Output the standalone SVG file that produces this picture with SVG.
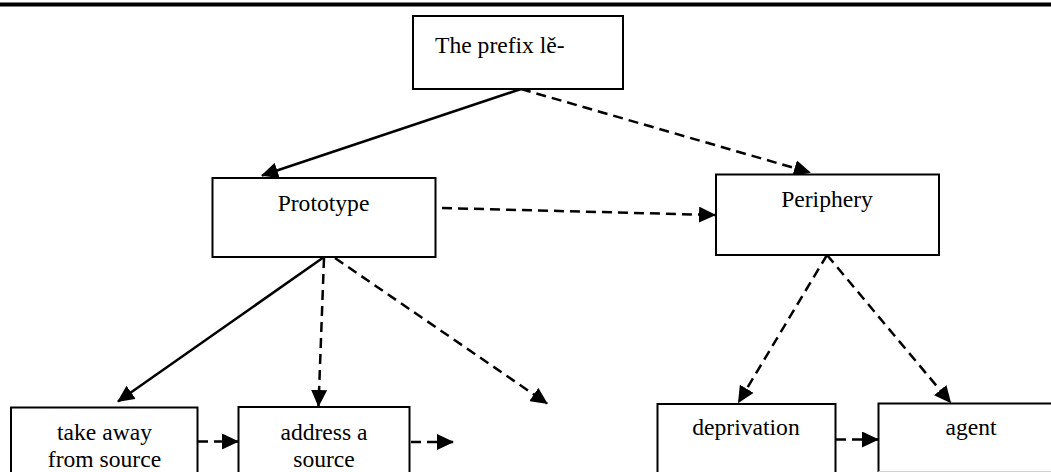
<svg xmlns="http://www.w3.org/2000/svg" width="1051" height="472" viewBox="0 0 1051 472">
  <style>
    .box { fill: #fff; stroke: #000; stroke-width: 2; }
    text { font-family: 'Liberation Serif', 'Times New Roman', 'DejaVu Serif', serif; font-size: 23.6px; fill: #000; }
    .mid { text-anchor: middle; }
    .solid { fill: none; stroke: #000; stroke-width: 2.5; marker-end: url(#head); }
    .dash { fill: none; stroke: #000; stroke-width: 2.5; stroke-dasharray: 10 6; marker-end: url(#head); }
  </style>
  <defs>
    <marker id="head" viewBox="0 0 17 16" markerWidth="17" markerHeight="16" refX="16" refY="8" orient="auto" markerUnits="userSpaceOnUse">
      <path d="M0,0 L17,8 L0,16 Z" fill="#000"/>
    </marker>
  </defs>

  <rect width="1051" height="472" fill="#fff"/>
  <!-- page rule -->
  <rect x="0" y="2.5" width="1051" height="4" fill="#000"/>

  <g id="connectors">
    <line class="solid" x1="521" y1="89" x2="262" y2="175.5"/>
    <line class="dash" x1="521" y1="89" x2="810" y2="172.5"/>
    <line class="dash" x1="442" y1="208" x2="715" y2="215"/>
    <line class="solid" x1="324" y1="257" x2="118" y2="401.5"/>
    <line class="dash" x1="324" y1="258" x2="318.5" y2="406"/>
    <line class="dash" x1="335" y1="258" x2="547" y2="403.5"/>
    <line class="dash" x1="198" y1="441.5" x2="238" y2="441.5"/>
    <line class="dash" x1="411" y1="442" x2="453" y2="442"/>
    <line class="dash" x1="827" y1="255" x2="738.5" y2="402.5"/>
    <line class="dash" x1="827" y1="255" x2="950.5" y2="402.5"/>
    <line class="dash" x1="836" y1="439.5" x2="878" y2="439.5"/>
  </g>

  <g id="node-prefix">
    <rect class="box" x="413" y="16" width="210" height="73"/>
    <text x="435" y="53">The prefix lě-</text>
  </g>

  <g id="node-prototype">
    <rect class="box" x="212.5" y="178" width="223" height="79"/>
    <text class="mid" x="323.5" y="211">Prototype</text>
  </g>

  <g id="node-periphery">
    <rect class="box" x="716" y="174.5" width="223" height="80.5"/>
    <text class="mid" x="827" y="207">Periphery</text>
  </g>

  <g id="node-take-away">
    <rect class="box" x="11" y="407.5" width="186.5" height="80"/>
    <text class="mid" x="104.5" y="440">take away</text>
    <text class="mid" x="104.5" y="467">from source</text>
  </g>

  <g id="node-address">
    <rect class="box" x="238.5" y="407" width="171" height="80"/>
    <text class="mid" x="324" y="440">address a</text>
    <text class="mid" x="324" y="467">source</text>
  </g>

  <g id="node-deprivation">
    <rect class="box" x="657.5" y="404" width="178" height="80"/>
    <text class="mid" x="746" y="435">deprivation</text>
  </g>

  <g id="node-agent">
    <rect class="box" x="878.5" y="403.5" width="190" height="80"/>
    <line x1="878.5" y1="471.5" x2="1051" y2="471.5" stroke="#d0d0d0" stroke-width="1"/>
    <text class="mid" x="971" y="435">agent</text>
  </g>
</svg>
